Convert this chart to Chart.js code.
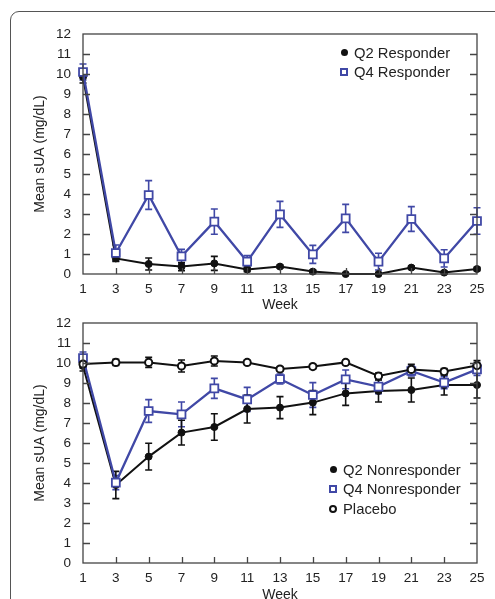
<!DOCTYPE html>
<html>
<head>
<meta charset="utf-8">
<script src="https://cdn.jsdelivr.net/npm/chart.js@4.4.1/dist/chart.umd.min.js"></script>
<style>
  html, body { margin: 0; padding: 0; background: #fff; overflow: hidden; }
  body { width: 495px; height: 599px; position: relative; font-family: 'Liberation Sans', Arial, sans-serif; }
  .frame { position: absolute; left: 10px; top: 11px; width: 600px; height: 700px; border: 1.5px solid #555; border-radius: 9px; }
  canvas { position: absolute; left: 0; }
  .legend { position: absolute; font-size: 14.8px; color: #222; }
  .row { display: flex; align-items: center; height: 19.5px; }
  .mk { width: 10px; display: flex; justify-content: center; align-items: center; margin-right: 5px; }
  .dot { width: 7px; height: 7px; border-radius: 50%; background: #111; }
  .sq { width: 8px; height: 8px; box-sizing: border-box; border: 2px solid #4048a6; background: #fff; }
  .ring { width: 8px; height: 8px; box-sizing: border-box; border: 2px solid #111; border-radius: 50%; background: #fff; }
</style>
</head>
<body>
<div class="frame"></div>
<canvas id="top" width="495" height="314" style="top:0"></canvas>
<canvas id="bottom" width="495" height="304" style="top:300px"></canvas>

<div class="legend" style="left:339px; top:43px">
  <div class="row"><span class="mk"><span class="dot"></span></span>Q2 Responder</div>
  <div class="row"><span class="mk"><span class="sq"></span></span>Q4 Responder</div>
</div>
<div class="legend" style="left:328px; top:460px">
  <div class="row"><span class="mk"><span class="dot"></span></span>Q2 Nonresponder</div>
  <div class="row"><span class="mk"><span class="sq"></span></span>Q4 Nonresponder</div>
  <div class="row"><span class="mk"><span class="ring"></span></span>Placebo</div>
</div>

<script>
const weeks = [1, 3, 5, 7, 9, 11, 13, 15, 17, 19, 21, 23, 25];
const yTicks = [0, 1, 2, 3, 4, 5, 6, 7, 8, 9, 10, 11, 12];

// top panel: responders
const q2Responder    = [9.85, 0.78, 0.5, 0.37, 0.53, 0.23, 0.37, 0.12, 0.0, 0.0, 0.32, 0.07, 0.25];
const q2ResponderErr = [0.3, 0.15, 0.3, 0.2, 0.35, 0.12, 0.08, 0.08, 0.05, 0.05, 0.08, 0.08, 0.08];
const q4Responder    = [10.1, 1.05, 3.95, 0.88, 2.62, 0.62, 2.98, 0.98, 2.78, 0.62, 2.75, 0.78, 2.65];
const q4ResponderErr = [0.4, 0.4, 0.72, 0.35, 0.63, 0.3, 0.65, 0.45, 0.7, 0.42, 0.62, 0.43, 0.66];

// bottom panel: nonresponders + placebo
const placebo      = [9.95, 10.03, 10.03, 9.85, 10.1, 10.03, 9.7, 9.82, 10.03, 9.35, 9.68, 9.57, 9.87];
const placeboErr   = [0.2, 0.15, 0.25, 0.3, 0.25, 0.1, 0.1, 0.1, 0.1, 0.15, 0.25, 0.15, 0.25];
const q4Nonresp    = [10.25, 4.02, 7.6, 7.43, 8.73, 8.18, 9.2, 8.4, 9.18, 8.82, 9.6, 9.02, 9.68];
const q4NonrespErr = [0.3, 0.35, 0.57, 0.62, 0.5, 0.6, 0.25, 0.62, 0.47, 0.35, 0.25, 0.3, 0.3];
const q2Nonresp    = [9.85, 3.9, 5.32, 6.52, 6.8, 7.7, 7.77, 8.02, 8.48, 8.6, 8.65, 8.9, 8.9];
const q2NonrespErr = [0.25, 0.68, 0.67, 0.62, 0.66, 0.7, 0.55, 0.6, 0.6, 0.55, 0.6, 0.5, 0.65];

const BLUE = '#4048a6';
const BLACK = '#111';
const FONT = "'Liberation Sans', Arial, sans-serif";

const toPoints = vals => weeks.map((w, i) => ({ x: w, y: vals[i] }));

function series(label, vals, errs, kind)
{
    const base = {
        label: label,
        data: toPoints(vals),
        errors: errs,
        clip: false,
        borderWidth: 2,
        pointBorderWidth: 2,
        tension: 0,
    };
    if (kind === 'dot') return Object.assign(base, { borderColor: BLACK, backgroundColor: BLACK, pointStyle: 'circle', pointRadius: 3.5, pointBorderWidth: 1 });
    if (kind === 'ring') return Object.assign(base, { borderColor: BLACK, backgroundColor: '#fff', pointStyle: 'circle', pointRadius: 3.6 });
    return Object.assign(base, { borderColor: BLUE, backgroundColor: '#fff', borderWidth: 2.3, pointStyle: 'rect', pointRadius: 5.6, pointBorderWidth: 1.8 });
}

const errorBars = {
    id: 'errorBars',
    beforeDatasetsDraw(chart)
    {
        const { ctx, scales: { x, y } } = chart;
        ctx.save();
        chart.data.datasets.forEach(ds =>
        {
            ctx.strokeStyle = ds.borderColor;
            ctx.lineWidth = 1.6;
            ds.data.forEach((p, i) =>
            {
                const e = ds.errors[i];
                const px = x.getPixelForValue(p.x);
                const y1 = y.getPixelForValue(p.y + e);
                const y2 = y.getPixelForValue(Math.max(0, p.y - e));
                ctx.beginPath();
                ctx.moveTo(px, y1); ctx.lineTo(px, y2);
                ctx.moveTo(px - 3.5, y1); ctx.lineTo(px + 3.5, y1);
                ctx.moveTo(px - 3.5, y2); ctx.lineTo(px + 3.5, y2);
                ctx.stroke();
            });
        });
        ctx.restore();
    }
};

const frame = {
    id: 'frame',
    afterDatasetsDraw(chart)
    {
        const { ctx, chartArea: a, scales: { x, y } } = chart;
        ctx.save();
        ctx.strokeStyle = '#444';
        ctx.lineWidth = 1.3;
        ctx.strokeRect(a.left, a.top, a.right - a.left, a.bottom - a.top);
        ctx.beginPath();
        yTicks.forEach(v =>
        {
            const py = Math.round(y.getPixelForValue(v)) + 0.5;
            if (v === 0 || v === 12) return;
            ctx.moveTo(a.left, py); ctx.lineTo(a.left + 7, py);
            ctx.moveTo(a.right, py); ctx.lineTo(a.right - 7, py);
        });
        weeks.forEach(w =>
        {
            const px = Math.round(x.getPixelForValue(w)) + 0.5;
            if (w === weeks[0] || w === weeks[weeks.length - 1]) return;
            ctx.moveTo(px, a.bottom); ctx.lineTo(px, a.bottom - 6);
        });
        ctx.stroke();
        ctx.restore();
    }
};

function makeChart(id, datasets, padTop, axisHeight)
{
    return new Chart(document.getElementById(id), {
        type: 'line',
        data: { datasets: datasets },
        plugins: [errorBars, frame],
        options: {
            responsive: false,
            animation: false,
            layout: { padding: { top: padTop, right: 18, left: 0, bottom: 0 } },
            plugins: { legend: { display: false }, tooltip: { enabled: false } },
            scales: {
                x: {
                    type: 'linear',
                    min: 1,
                    max: 25,
                    grid: { display: false },
                    border: { display: false },
                    afterBuildTicks: s => { s.ticks = weeks.map(v => ({ value: v })); },
                    afterFit: s => { s.height = axisHeight; },
                    ticks: { color: '#222', padding: -1, font: { family: FONT, size: 13.5 } },
                    title: { display: true, text: 'Week', color: '#222', padding: 0, font: { family: FONT, size: 14 } }
                },
                y: {
                    min: 0,
                    max: 12,
                    grid: { display: false },
                    border: { display: false },
                    afterBuildTicks: s => { s.ticks = yTicks.map(v => ({ value: v })); },
                    afterFit: s => { s.width = 83; },
                    ticks: { color: '#222', padding: 4, font: { family: FONT, size: 13.5 } },
                    title: { display: true, text: 'Mean sUA (mg/dL)', color: '#222', padding: { top: 32, bottom: 0 }, font: { family: FONT, size: 14 } }
                }
            }
        }
    });
}

makeChart('top', [
    series('Q4 Responder', q4Responder, q4ResponderErr, 'sq'),
    series('Q2 Responder', q2Responder, q2ResponderErr, 'dot'),
], 34, 40);

makeChart('bottom', [
    series('Placebo', placebo, placeboErr, 'ring'),
    series('Q4 Nonresponder', q4Nonresp, q4NonrespErr, 'sq'),
    series('Q2 Nonresponder', q2Nonresp, q2NonrespErr, 'dot'),
], 23, 41);
</script>
</body>
</html>
